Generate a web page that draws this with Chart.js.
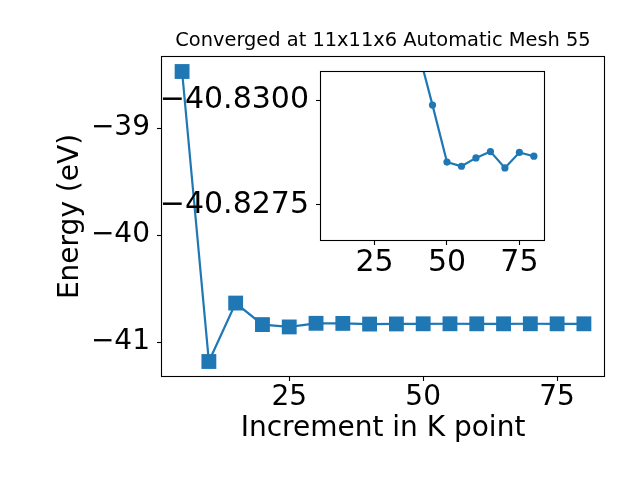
<!DOCTYPE html>
<html>
<head>
<meta charset="utf-8">
<script src="https://cdn.jsdelivr.net/npm/chart.js@4"></script>
<style>
  html, body { margin: 0; padding: 0; background: #fff; }
  #wrap { position: relative; width: 640px; height: 480px; }
  #main { position: absolute; left: 0; top: 0; }
  #inset { position: absolute; left: 140px; top: 30px; }
</style>
</head>
<body>
<div id="wrap">
  <canvas id="main" width="640" height="480"></canvas>
  <canvas id="inset" width="420" height="260"></canvas>
</div>
<script>
const kPoints = [5, 10, 15, 20, 25, 30, 35, 40, 45, 50, 55, 60, 65, 70, 75, 80];
const energy = [
  -38.471, -41.181, -40.635, -40.836, -40.858, -40.824, -40.825, -40.8312,
  -40.82988, -40.82852, -40.82842, -40.82862, -40.82877, -40.82838, -40.82875, -40.82866,
];
const insetFrom = 40; // the zoomed inset only plots k >= 40
const xTicks = [25, 50, 75];
const yTicks = [-41, -40, -39];
const insetYTicks = [-40.83, -40.8275];

const blue = "#1f77b4";
const family = "DejaVu Sans";
const titleText = "Converged at 11x11x6 Automatic Mesh 55";

Chart.defaults.font.family = family;
Chart.defaults.color = "#000";

const minus = (s) => s.replace("-", "\u2212");

// matplotlib style box around the plot area
const frame = {
  id: "frame",
  afterDraw(chart) {
    const { ctx, chartArea: a } = chart;
    ctx.save();
    ctx.strokeStyle = "#000";
    ctx.lineWidth = 1.1;
    const l = Math.round(a.left) - 0.5, t = Math.round(a.top) - 0.5;
    ctx.strokeRect(l, t, Math.round(a.right) - Math.round(a.left) + 1, Math.round(a.bottom) - Math.round(a.top) + 1);
    ctx.restore();
  },
};

// title centred over the plot area, not the canvas
const topTitle = {
  id: "topTitle",
  afterDraw(chart) {
    const { ctx, chartArea: a } = chart;
    ctx.save();
    ctx.font = `19.4px "${family}"`;
    ctx.fillStyle = "#000";
    ctx.textAlign = "center";
    ctx.textBaseline = "alphabetic";
    ctx.fillText(titleText, (a.left + a.right) / 2, a.top - 11);
    ctx.restore();
  },
};

function axis(opts) {
  return {
    type: "linear",
    min: opts.min,
    max: opts.max,
    reverse: !!opts.reverse,
    afterFit: (s) => {
      if (opts.width) s.width = opts.width;
      if (opts.height) s.height = opts.height;
    },
    afterBuildTicks: (s) => {
      s.ticks = opts.ticks.map((v) => ({ value: v }));
    },
    grid: { drawOnChartArea: false, tickLength: 5, tickColor: "#000", tickWidth: 1.1 },
    border: { display: false },
    ticks: {
      color: "#000",
      font: { size: opts.fontSize || 28 },
      padding: opts.pad,
      maxRotation: 0,
      autoSkip: false,
      callback: opts.fmt,
    },
    title: opts.title
      ? { display: true, text: opts.title, color: "#000", font: { size: 28 }, padding: opts.titlePad }
      : { display: false },
  };
}

const mainPoints = kPoints.map((k, i) => ({ x: k, y: energy[i] }));
const insetPoints = mainPoints.filter((p) => p.x >= insetFrom);

new Chart(document.getElementById("main"), {
  type: "line",
  data: {
    datasets: [
      {
        data: mainPoints,
        borderColor: blue,
        borderWidth: 2.2,
        pointStyle: "rect",
        pointRadius: 10.5,
        pointBackgroundColor: blue,
        pointBorderWidth: 0,
        tension: 0,
      },
    ],
  },
  options: {
    responsive: false,
    animation: false,
    devicePixelRatio: 1,
    layout: { padding: { left: 0, right: 36, top: 57, bottom: 0 } },
    plugins: { legend: { display: false }, tooltip: { enabled: false } },
    scales: {
      x: axis({
        min: 1.25, max: 83.75, ticks: xTicks, height: 104, pad: 0,
        fmt: (v) => String(v),
        title: "Increment in K point", titlePad: { top: 0, bottom: 34 },
      }),
      y: axis({
        min: -41.3165, max: -38.3355, ticks: yTicks, width: 162, pad: 7,
        fmt: (v) => minus(v.toFixed(0)),
        title: "Energy (eV)", titlePad: { top: 54, bottom: 0 },
      }),
    },
  },
  plugins: [frame, topTitle],
});

new Chart(document.getElementById("inset"), {
  type: "line",
  data: {
    datasets: [
      {
        data: insetPoints,
        borderColor: blue,
        borderWidth: 2.2,
        pointStyle: "circle",
        pointRadius: 3.6,
        pointBackgroundColor: blue,
        pointBorderWidth: 0,
        tension: 0,
      },
    ],
  },
  options: {
    responsive: false,
    animation: false,
    devicePixelRatio: 1,
    layout: { padding: { left: 0, right: 16, top: 42, bottom: 0 } },
    plugins: { legend: { display: false }, tooltip: { enabled: false } },
    scales: {
      x: axis({
        min: 6.5, max: 83.5, ticks: xTicks, height: 50, pad: 0, fontSize: 30,
        fmt: (v) => String(v),
      }),
      y: axis({
        min: -40.83067, max: -40.82666, reverse: true, ticks: insetYTicks, width: 181, pad: 7, fontSize: 30,
        fmt: (v) => minus(v.toFixed(4)),
      }),
    },
  },
  plugins: [frame],
});
</script>
</body>
</html>
